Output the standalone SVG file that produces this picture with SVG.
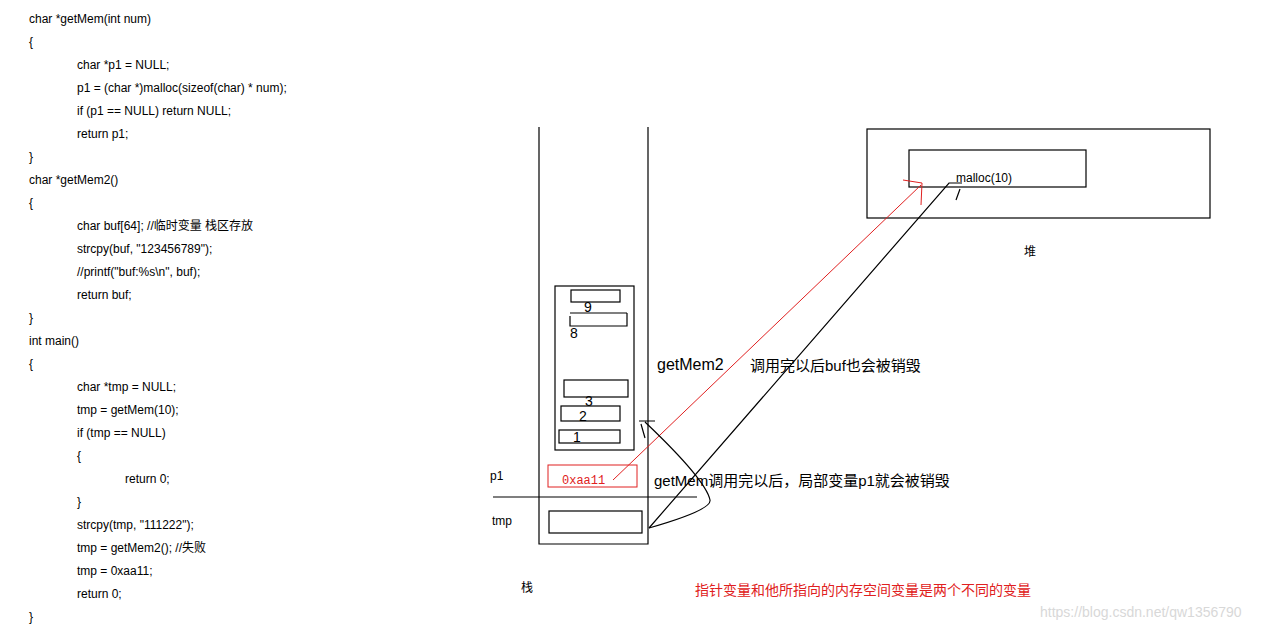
<svg xmlns="http://www.w3.org/2000/svg" width="1276" height="630" viewBox="0 0 1276 630">
<style>
.c{font-family:"Liberation Sans",sans-serif;font-size:12px;fill:#000}
.b{fill:none;stroke:#000;stroke-width:1.2}
.r{fill:none;stroke:#e02020;stroke-width:1}
.l{font-family:"Liberation Sans","Noto Sans CJK SC",sans-serif;fill:#000}
</style>
<rect width="1276" height="630" fill="#fff"/>
<g id="code" class="c">
<text x="29" y="23">char *getMem(int num)</text>
<text x="29" y="46">{</text>
<text x="77" y="69">char *p1 = NULL;</text>
<text x="77" y="92">p1 = (char *)malloc(sizeof(char) * num);</text>
<text x="77" y="115">if (p1 == NULL) return NULL;</text>
<text x="77" y="138">return p1;</text>
<text x="29" y="161">}</text>
<text x="29" y="184">char *getMem2()</text>
<text x="29" y="207">{</text>
<text x="77" y="230" style="font-family:'Liberation Sans','Noto Sans CJK SC',sans-serif">char buf[64]; //临时变量 栈区存放</text>
<text x="77" y="253">strcpy(buf, "123456789");</text>
<text x="77" y="276">//printf("buf:%s\n", buf);</text>
<text x="77" y="299">return buf;</text>
<text x="29" y="322">}</text>
<text x="29" y="345">int  main()</text>
<text x="29" y="368">{</text>
<text x="77" y="391">char *tmp = NULL;</text>
<text x="77" y="414">tmp = getMem(10);</text>
<text x="77" y="437">if (tmp == NULL)</text>
<text x="77" y="460">{</text>
<text x="125" y="483">return 0;</text>
<text x="77" y="506">}</text>
<text x="77" y="529">strcpy(tmp, "111222");</text>
<text x="77" y="552" style="font-family:'Liberation Sans','Noto Sans CJK SC',sans-serif">tmp = getMem2();  //失败</text>
<text x="77" y="575">tmp = 0xaa11;</text>
<text x="77" y="598">return 0;</text>
<text x="29" y="621">}</text>
</g>
<g id="stack">
<path class="b" d="M539,127V544H648V127"/>
<rect class="b" x="555" y="286" width="79" height="164"/>
<rect class="b" x="571" y="290" width="49" height="12"/>
<path class="b" d="M570,316V326H627V313M570,313H627"/>
<rect class="b" x="564" y="380" width="64" height="17"/>
<rect class="b" x="561" y="406" width="59" height="15"/>
<rect class="b" x="559" y="430" width="61" height="13"/>
<text class="l" x="584" y="312" font-size="14">9</text>
<text class="l" x="570" y="338" font-size="14">8</text>
<text class="l" x="585" y="406" font-size="14">3</text>
<text class="l" x="579" y="421" font-size="14">2</text>
<text class="l" x="573" y="442" font-size="14">1</text>
<rect class="r" x="548" y="465" width="89" height="22"/>
<text x="562" y="484" font-family="Liberation Mono,monospace" font-size="12" fill="#e02020">0xaa11</text>
<line class="b" x1="493" y1="497" x2="697" y2="497"/>
<rect class="b" x="549" y="511" width="93" height="22"/>
<text class="l" x="490" y="480" font-size="12" fill="#e02020">p1</text>
<text class="l" x="492" y="525" font-size="12">tmp</text>
<text class="l" x="521" y="592" font-size="12">栈</text>
</g>
<g id="heap">
<rect class="b" x="867" y="129" width="343" height="89"/>
<rect class="b" x="909" y="150" width="177" height="37"/>
<text class="l" x="956" y="182" font-size="12">malloc(10)</text>
<text class="l" x="1024" y="256" font-size="12">堆</text>
</g>
<g id="connectors">
<path class="r" d="M613,480L921,185M903,180L922,183L921,205"/>
<path class="b" d="M649,528L949,183L962,183M960,189L956,200"/>
<path class="b" d="M649,528Q712,510 710,500Q706,480 645,422M639,421H655M641,424L645,438"/>
</g>
<g id="labels" class="l">
<text x="657" y="370" font-size="16">getMem2</text>
<text x="750" y="371" font-size="15">调用完以后buf也会被销毁</text>
<text x="654" y="486" font-size="15">getMem调用完以后，局部变量p1就会被销毁</text>
<text x="695" y="595" font-size="14" fill="#e02020">指针变量和他所指向的内存空间变量是两个不同的变量</text>
<text x="1040" y="617" font-size="14" fill="#d8d8d8">https://blog.csdn.net/qw1356790</text>
</g>
</svg>
